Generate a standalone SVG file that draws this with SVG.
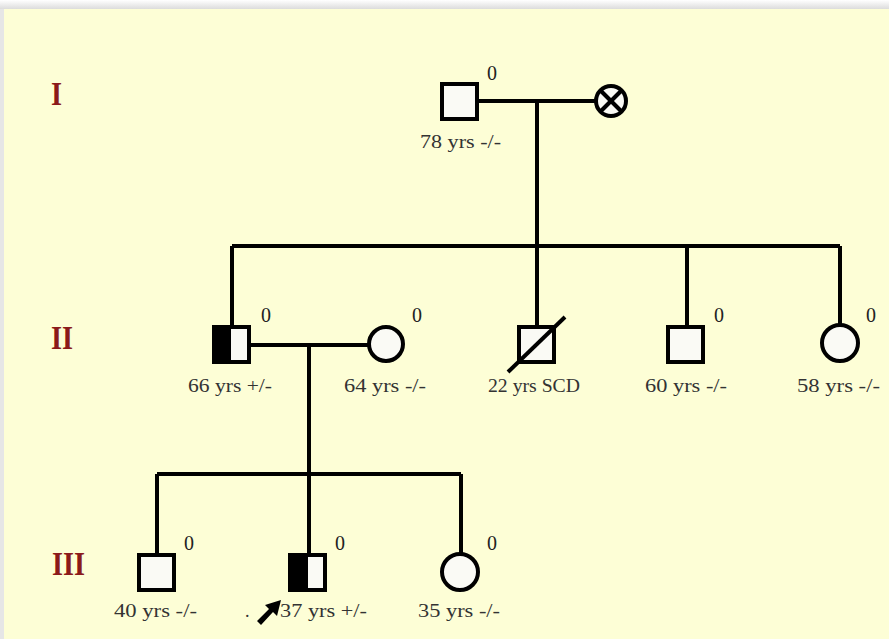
<svg xmlns="http://www.w3.org/2000/svg" width="889" height="639" viewBox="0 0 889 639">
<defs>
<linearGradient id="topShade" x1="0" y1="0" x2="0" y2="1"><stop offset="0" stop-color="#ffffff"/><stop offset="1" stop-color="#dcdcdc"/></linearGradient>
</defs>
<style>
.ln{stroke:#000;stroke-width:4;fill:none}
.sym{stroke:#000;stroke-width:4;fill:#fafaf5}
.blk{fill:#000}
.lbl{font-family:"Liberation Serif","DejaVu Serif",serif;font-size:18px;fill:#333}
.num{font-family:"Liberation Serif","DejaVu Serif",serif;font-size:20px;fill:#222}
.gen{font-family:"Liberation Serif","DejaVu Serif",serif;font-size:34px;font-weight:bold;fill:#8b1a1a}
</style>
<rect x="0" y="0" width="889" height="639" fill="#e6e6e6"/>
<rect x="0" y="0" width="889" height="9" fill="url(#topShade)"/>
<rect x="4" y="9" width="885" height="630" fill="#fdfed6"/>
<g id="generations">
<text class="gen" x="51" y="105" textLength="11" lengthAdjust="spacingAndGlyphs">I</text>
<text class="gen" x="51" y="349" textLength="22" lengthAdjust="spacingAndGlyphs">II</text>
<text class="gen" x="52" y="575" textLength="33" lengthAdjust="spacingAndGlyphs">III</text>
</g>
<g id="connectors">
<line class="ln" x1="479" y1="101" x2="595" y2="101"/>
<line class="ln" x1="537" y1="101" x2="537" y2="246"/>
<line class="ln" x1="232" y1="246" x2="840" y2="246"/>
<line class="ln" x1="232" y1="246" x2="232" y2="325"/>
<line class="ln" x1="537" y1="246" x2="537" y2="325"/>
<line class="ln" x1="687" y1="246" x2="687" y2="325"/>
<line class="ln" x1="840" y1="246" x2="840" y2="324"/>
<line class="ln" x1="251" y1="345" x2="368" y2="345"/>
<line class="ln" x1="309" y1="345" x2="309" y2="474"/>
<line class="ln" x1="157" y1="474" x2="461" y2="474"/>
<line class="ln" x1="157" y1="474" x2="157" y2="553"/>
<line class="ln" x1="309" y1="474" x2="309" y2="553"/>
<line class="ln" x1="461" y1="474" x2="461" y2="553"/>
</g>
<g id="I-1">
<rect class="sym" x="442" y="84" width="35" height="35"/>
<text class="num" x="487" y="80">0</text>
<text class="lbl" x="420" y="148" textLength="81" lengthAdjust="spacingAndGlyphs">78 yrs -/-</text>
</g>
<g id="I-2">
<circle class="sym" cx="611" cy="101" r="15"/>
<line class="ln" x1="600" y1="90" x2="622" y2="112"/>
<line class="ln" x1="622" y1="90" x2="600" y2="112"/>
</g>
<g id="II-1">
<rect class="sym" x="214" y="327" width="35" height="35"/>
<rect class="blk" x="212" y="325" width="19" height="39"/>
<text class="num" x="261" y="322">0</text>
<text class="lbl" x="188" y="392" textLength="84" lengthAdjust="spacingAndGlyphs">66 yrs +/-</text>
</g>
<g id="II-2">
<circle class="sym" cx="386" cy="344" r="17"/>
<text class="num" x="412" y="322">0</text>
<text class="lbl" x="344" y="392" textLength="82" lengthAdjust="spacingAndGlyphs">64 yrs -/-</text>
</g>
<g id="II-3">
<rect class="sym" x="519" y="327" width="35" height="35"/>
<line class="ln" x1="508" y1="372" x2="565" y2="317"/>
<text class="lbl" x="488" y="392" textLength="92" lengthAdjust="spacingAndGlyphs">22 yrs SCD</text>
</g>
<g id="II-4">
<rect class="sym" x="668" y="327" width="35" height="35"/>
<text class="num" x="714" y="322">0</text>
<text class="lbl" x="645" y="392" textLength="82" lengthAdjust="spacingAndGlyphs">60 yrs -/-</text>
</g>
<g id="II-5">
<circle class="sym" cx="840" cy="343" r="18"/>
<text class="num" x="866" y="322">0</text>
<text class="lbl" x="797" y="392" textLength="83" lengthAdjust="spacingAndGlyphs">58 yrs -/-</text>
</g>
<g id="III-1">
<rect class="sym" x="139" y="555" width="35" height="35"/>
<text class="num" x="184" y="550">0</text>
<text class="lbl" x="114" y="617" textLength="83" lengthAdjust="spacingAndGlyphs">40 yrs -/-</text>
</g>
<g id="III-2">
<rect class="sym" x="290" y="555" width="35" height="35"/>
<rect class="blk" x="288" y="553" width="20" height="39"/>
<text class="num" x="335" y="550">0</text>
<text class="lbl" x="245" y="617">.</text>
<path d="M257,621 L269,609 L265,605 L281,600 L277,616 L273,612 L261,625 Z" fill="#000"/>
<text class="lbl" x="280" y="617" textLength="87" lengthAdjust="spacingAndGlyphs">37 yrs +/-</text>
</g>
<g id="III-3">
<circle class="sym" cx="460" cy="572" r="18"/>
<text class="num" x="487" y="550">0</text>
<text class="lbl" x="418" y="617" textLength="82" lengthAdjust="spacingAndGlyphs">35 yrs -/-</text>
</g>
</svg>
